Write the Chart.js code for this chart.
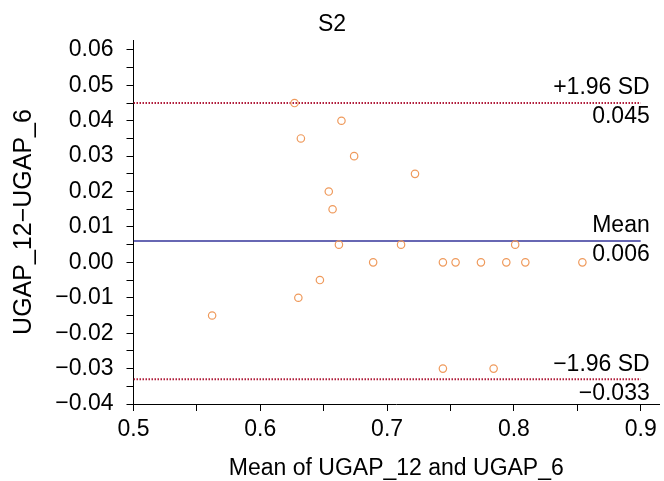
<!DOCTYPE html>
<html>
<head>
<meta charset="utf-8">
<title>S2</title>
<script src="https://cdn.jsdelivr.net/npm/chart.js@4.4.1/dist/chart.umd.min.js"></script>
<style>
  body { margin: 0; background: #fff; }
  canvas { display: block; }
</style>
</head>
<body>
<canvas id="grafico" width="664" height="481"></canvas>
<script>
// values
const meanX = [0.627, 0.664, 0.632, 0.674, 0.654, 0.657, 0.662, 0.689, 0.647, 0.562, 0.630,
               0.722, 0.711, 0.801, 0.744, 0.754, 0.774, 0.794, 0.809, 0.854, 0.744, 0.784];
const diffY = [0.045, 0.040, 0.035, 0.030, 0.020, 0.015, 0.005, 0.000, -0.005, -0.015, -0.010,
               0.025, 0.005, 0.005, 0.000, 0.000, 0.000, 0.000, 0.000, 0.000, -0.030, -0.030];

const limitNames = ["+1.96 SD", "Mean", "\u22121.96 SD"];
const limitValues = [0.045, 0.006, -0.033];
const limitTexts = ["0.045", "0.006", "\u22120.033"];

const xTicks = [0.5, 0.55, 0.6, 0.65, 0.7, 0.75, 0.8, 0.85, 0.9];
const yTicks = [-0.04, -0.035, -0.03, -0.025, -0.02, -0.015, -0.01, -0.005, 0, 0.005, 0.01,
                0.015, 0.02, 0.025, 0.03, 0.035, 0.04, 0.045, 0.05, 0.055, 0.06];

const fonte = '"Liberation Sans", Arial, Helvetica, sans-serif';
Chart.defaults.color = "#000";
Chart.defaults.font.family = fonte;

const pontos = meanX.map((x, i) => ({ x: x, y: diffY[i] }));
const lineColors = ["#b01c3a", "#34349a", "#b01c3a"];

const linhas = limitValues.map((v, i) => ({
  type: "line",
  data: [{ x: xTicks[0], y: v }, { x: xTicks[xTicks.length - 1], y: v }],
  borderColor: lineColors[i],
  borderWidth: i === 1 ? 1.5 : 2,
  borderDash: i === 1 ? [] : [1.5, 1.5],
  pointRadius: 0,
  showLine: true,
  fill: false
}));

const limitLabels = {
  id: "limitLabels",
  afterDatasetsDraw(chart) {
    const { ctx, scales: { x, y } } = chart;
    ctx.save();
    ctx.font = "23px " + fonte;
    ctx.fillStyle = "#000";
    ctx.textAlign = "right";
    ctx.textBaseline = "middle";
    const px = x.getPixelForValue(xTicks[xTicks.length - 1]) + 9;
    limitNames.forEach((nome, i) => {
      const py = y.getPixelForValue(limitValues[i]);
      ctx.fillText(nome, px, py - 15);
      ctx.fillText(limitTexts[i], px, py + 14);
    });
    ctx.restore();
  }
};

const eixo = {
  grid: { drawOnChartArea: false, drawTicks: true, tickLength: 7, color: "#000" },
  border: { display: true, color: "#000", width: 1 }
};

new Chart(document.getElementById("grafico"), {
  type: "scatter",
  data: {
    datasets: [{
      data: pontos,
      borderColor: "#ef9a5c",
      backgroundColor: "rgba(0,0,0,0)",
      pointRadius: 3.7,
      pointBorderWidth: 1.2,
      pointHoverRadius: 3.7
    }].concat(linhas)
  },
  options: {
    responsive: false,
    animation: false,
    devicePixelRatio: 1,
    layout: { padding: 0 },
    plugins: {
      legend: { display: false },
      tooltip: { enabled: false },
      title: {
        display: true,
        text: "S2",
        font: { size: 23, weight: "normal" },
        padding: { top: 11, bottom: 1.4 }
      }
    },
    scales: {
      x: {
        type: "linear",
        min: 0.5,
        max: 0.9145,
        ...eixo,
        afterBuildTicks: s => { s.ticks = xTicks.map(v => ({ value: v })); },
        afterFit: s => { s.height = 77; },
        ticks: {
          autoSkip: false,
          maxRotation: 0,
          padding: 5,
          font: { size: 23 },
          callback: v => (Math.abs(v * 10 - Math.round(v * 10)) < 1e-6 ? v.toFixed(1) : "")
        },
        title: {
          display: true,
          text: "Mean of UGAP_12 and UGAP_6",
          font: { size: 23, lineHeight: 1 },
          padding: { top: 0, bottom: 1 }
        }
      },
      y: {
        type: "linear",
        min: -0.04,
        max: 0.0628,
        ...eixo,
        afterBuildTicks: s => { s.ticks = yTicks.map(v => ({ value: v })); },
        afterFit: s => { s.width = 133.5; },
        ticks: {
          autoSkip: false,
          padding: 13,
          font: { size: 23 },
          callback: v => {
            if (Math.abs(v * 100 - Math.round(v * 100)) > 1e-6) return "";
            return v.toFixed(2).replace("-", "\u2212");
          }
        },
        title: {
          display: true,
          text: "UGAP_12\u2212UGAP_6",
          font: { size: 25, lineHeight: 1 },
          padding: { top: 11.5, bottom: 0 }
        }
      }
    }
  },
  plugins: [limitLabels]
});
</script>
</body>
</html>
